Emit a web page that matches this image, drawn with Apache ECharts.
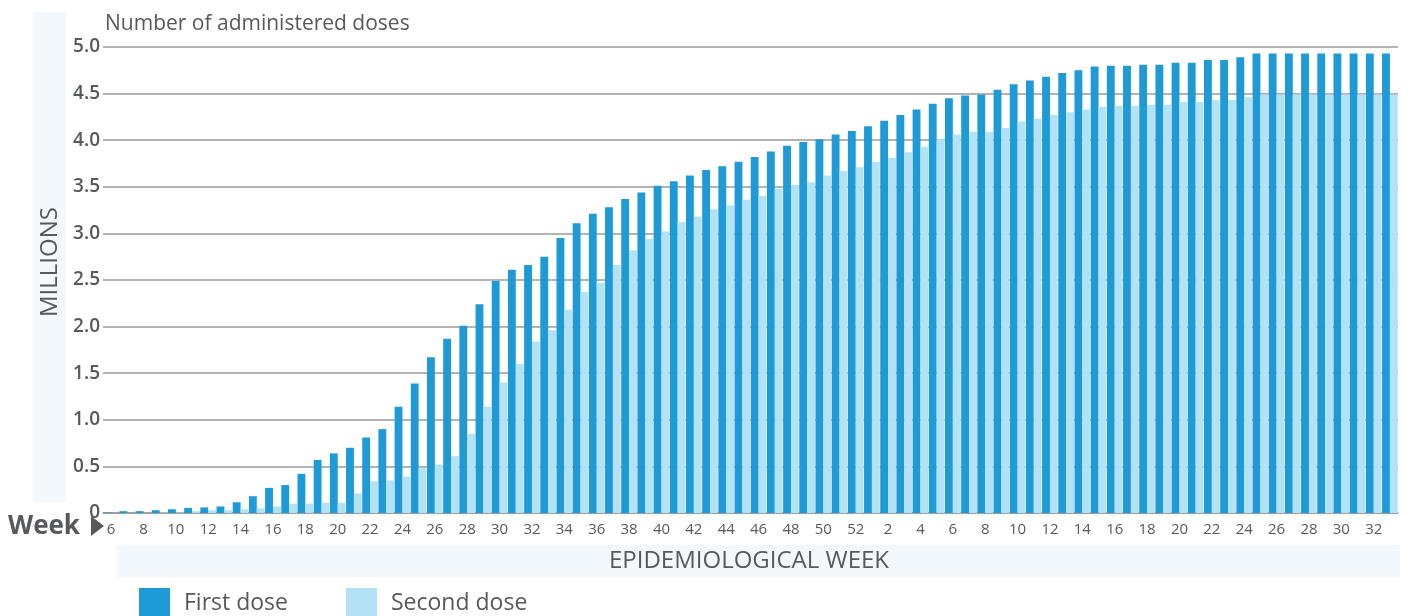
<!DOCTYPE html>
<html>
<head>
<meta charset="utf-8">
<script src="https://cdn.jsdelivr.net/npm/echarts@6/dist/echarts.min.js"></script>
<style>
  html, body { margin: 0; padding: 0; background: #ffffff; }
  #chart { width: 1408px; height: 616px; }
</style>
</head>
<body>
<div id="chart"></div>
<script>
// Epidemiological weeks (week 6 of first year to week 33 of second year)
const weeksYear1 = [6,7,8,9,10,11,12,13,14,15,16,17,18,19,20,21,22,23,24,25,26,27,28,29,30,31,32,33,34,35,36,37,38,39,40,41,42,43,44,45,46,47,48,49,50,51,52];
const weeksYear2 = [1,2,3,4,5,6,7,8,9,10,11,12,13,14,15,16,17,18,19,20,21,22,23,24,25,26,27,28,29,30,31,32,33];
const categories = weeksYear1.concat(weeksYear2).map(String);

// Cumulative doses, millions
const firstDose = [
  0.005, 0.02, 0.02, 0.03, 0.04, 0.055, 0.06, 0.07, 0.115, 0.18,
  0.27, 0.30, 0.42, 0.57, 0.64, 0.70, 0.81, 0.90, 1.14, 1.39,
  1.67, 1.87, 2.01, 2.24, 2.49, 2.61, 2.66, 2.75, 2.95, 3.11,
  3.21, 3.28, 3.37, 3.44, 3.51, 3.56, 3.62, 3.68, 3.72, 3.77,
  3.82, 3.88, 3.94, 3.98, 4.01, 4.06, 4.10, 4.15, 4.21, 4.27,
  4.33, 4.39, 4.45, 4.48, 4.49, 4.54, 4.60, 4.64, 4.68, 4.72,
  4.75, 4.79, 4.80, 4.80, 4.81, 4.81, 4.83, 4.83, 4.86, 4.86,
  4.89, 4.93, 4.93, 4.93, 4.93, 4.93, 4.93, 4.93, 4.93, 4.93
];
const secondDose = [
  0, 0, 0, 0.005, 0.005, 0.02, 0.03, 0.03, 0.04, 0.05,
  0.07, 0.10, 0.10, 0.11, 0.11, 0.21, 0.34, 0.35, 0.39, 0.48,
  0.52, 0.61, 0.85, 1.14, 1.40, 1.60, 1.84, 1.96, 2.18, 2.37,
  2.47, 2.66, 2.82, 2.94, 3.02, 3.12, 3.18, 3.26, 3.30, 3.36,
  3.40, 3.48, 3.52, 3.55, 3.62, 3.67, 3.71, 3.77, 3.81, 3.87,
  3.93, 4.01, 4.06, 4.09, 4.09, 4.13, 4.20, 4.23, 4.27, 4.30,
  4.33, 4.36, 4.37, 4.37, 4.38, 4.38, 4.41, 4.41, 4.43, 4.43,
  4.46, 4.49, 4.49, 4.49, 4.49, 4.49, 4.49, 4.49, 4.49, 4.49
];
const seriesNames = ['First dose', 'Second dose'];
const titleText = 'Number of administered doses';
const yAxisTitle = 'MILLIONS';
const xAxisTitle = 'EPIDEMIOLOGICAL WEEK';
const weekLabel = 'Week';

const FONT = '"Open Sans", "Noto Sans", sans-serif';
const TEXT = '#58595b';
const DARK = '#1e9ad6';
const LIGHT = '#b3e2f7';
const BAND = '#f3f8fc';

const chart = echarts.init(document.getElementById('chart'), null, { renderer: 'canvas' });
chart.setOption({
  backgroundColor: '#ffffff',
  animation: false,
  textStyle: { fontFamily: FONT },
  grid: { left: 103, right: 10, top: 47, bottom: 103, containLabel: false },
  legend: {
    data: seriesNames,
    left: 139, top: 588, padding: 0,
    icon: 'rect', itemWidth: 31, itemHeight: 31, itemGap: 58,
    textStyle: { fontFamily: FONT, fontSize: 23, color: TEXT, padding: [0, 0, 0, 9] }
  },
  xAxis: {
    type: 'category',
    data: categories,
    axisLine: { show: true, lineStyle: { color: '#9a9a9a', width: 1.5 } },
    axisTick: { show: false },
    axisLabel: {
      interval: function (idx, val) { return Number(val) % 2 === 0; },
      fontFamily: FONT, fontSize: 15, color: TEXT, margin: 9
    },
    splitLine: { show: false }
  },
  yAxis: {
    type: 'value', min: 0, max: 5, interval: 0.5,
    axisLine: { show: false }, axisTick: { show: false },
    axisLabel: {
      formatter: function (v) { return v === 0 ? '0' : v.toFixed(1); },
      fontFamily: FONT, fontSize: 19, fontWeight: 600, color: TEXT, margin: 3
    },
    splitLine: { show: true, lineStyle: { color: '#9a9a9a', width: 1.5 } }
  },
  series: [
    { name: seriesNames[0], type: 'bar', data: firstDose, itemStyle: { color: DARK },
      barGap: '0%', barCategoryGap: '3%' },
    { name: seriesNames[1], type: 'bar', data: secondDose, itemStyle: { color: LIGHT },
      barGap: '0%', barCategoryGap: '3%' }
  ],
  graphic: [
    { type: 'rect', z: -10, silent: true, shape: { x: 33, y: 12, width: 33, height: 490 }, style: { fill: BAND } },
    { type: 'rect', z: -10, silent: true, shape: { x: 116, y: 545, width: 1284, height: 32 }, style: { fill: BAND } },
    { type: 'text', x: 105, y: 24,
      style: { text: titleText, font: '21px ' + FONT, fill: TEXT, align: 'left', verticalAlign: 'middle' } },
    { type: 'text', x: 50, y: 262, rotation: Math.PI / 2,
      style: { text: yAxisTitle, font: '24px ' + FONT, fill: TEXT, align: 'center', verticalAlign: 'middle' } },
    { type: 'text', x: 8, y: 527,
      style: { text: weekLabel, font: 'bold 26px ' + FONT, fill: TEXT, align: 'left', verticalAlign: 'middle' } },
    { type: 'polygon', shape: { points: [[91, 516], [104, 526], [91, 536]] }, style: { fill: TEXT } },
    { type: 'text', x: 749, y: 561,
      style: { text: xAxisTitle, font: '24px ' + FONT, fill: TEXT, align: 'center', verticalAlign: 'middle' } }
  ]
});
</script>
</body>
</html>
